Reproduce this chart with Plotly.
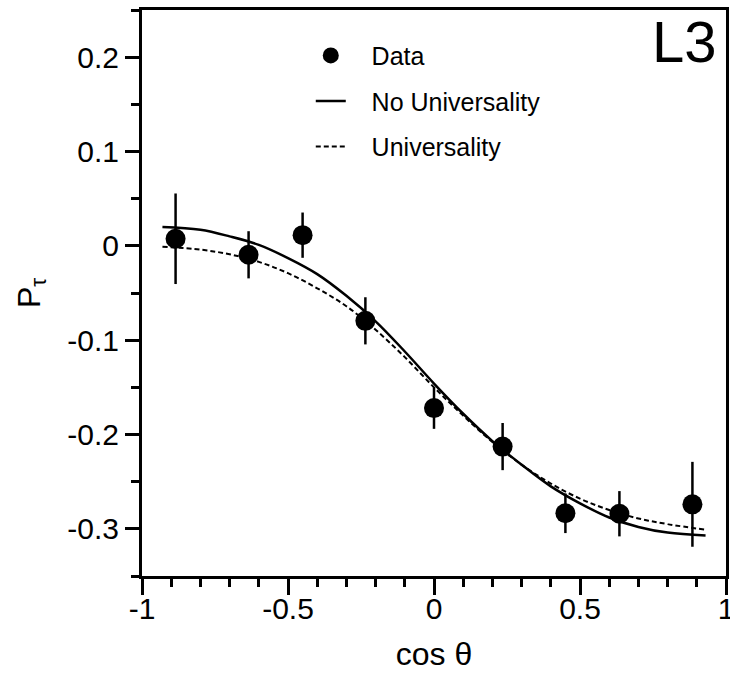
import plotly.graph_objects as go

# Data points
cos_theta = [-0.885, -0.635, -0.45, -0.235, 0.0, 0.235, 0.45, 0.635, 0.885]
p_tau = [0.0075, -0.0095, 0.0113, -0.0795, -0.172, -0.2128, -0.2835, -0.284, -0.274]
p_tau_err = [0.048, 0.025, 0.024, 0.025, 0.022, 0.025, 0.021, 0.024, 0.045]

# Fit curves
curve_x = [-0.93, -0.8, -0.7, -0.6, -0.5, -0.4, -0.3, -0.2, -0.1, 0.0,
           0.1, 0.2, 0.3, 0.4, 0.5, 0.6, 0.7, 0.8, 0.93]
no_univ = [0.020, 0.017, 0.010, 0.001, -0.013, -0.030, -0.053, -0.080, -0.112, -0.146,
           -0.178, -0.207, -0.232, -0.255, -0.273, -0.288, -0.298, -0.304, -0.307]
univ = [-0.001, -0.004, -0.009, -0.017, -0.029, -0.045, -0.064, -0.089, -0.118, -0.150,
        -0.180, -0.208, -0.232, -0.252, -0.268, -0.280, -0.289, -0.295, -0.301]

x_tickvals = [-1, -0.5, 0, 0.5, 1]
x_ticktext = ["-1", "-0.5", "0", "0.5", "1"]
y_tickvals = [-0.3, -0.2, -0.1, 0, 0.1, 0.2]
y_ticktext = ["-0.3", "-0.2", "-0.1", "0", "0.1", "0.2"]

FONT = "Liberation Sans, Arial, Helvetica, sans-serif"
PAD = "\u00a0\u00a0\u00a0"

fig = go.Figure()
fig.add_trace(go.Scatter(
    x=cos_theta, y=p_tau, mode="markers", name=PAD + "Data",
    marker=dict(color="black", size=20, symbol="circle"),
    error_y=dict(type="data", array=p_tau_err, color="black", thickness=2.5, width=0),
    legendgroup="a",
))
fig.add_trace(go.Scatter(
    x=curve_x, y=no_univ, mode="lines", name=PAD + "No Universality",
    line=dict(color="black", width=2.5, shape="spline"),
    legendgroup="b",
))
fig.add_trace(go.Scatter(
    x=curve_x, y=univ, mode="lines", name=PAD + "Universality",
    line=dict(color="black", width=2, shape="spline", dash="5px,3px"),
    legendgroup="c",
))

axis_common = dict(
    showgrid=False, zeroline=False, showline=True, linecolor="black", linewidth=3,
    mirror=True, ticks="outside", tickcolor="black", tickwidth=2.5,
    tickfont=dict(family=FONT, size=30, color="black"),
    automargin=False, ticklabeloverflow="allow",
)

fig.update_layout(
    width=730, height=680,
    margin=dict(l=142, r=4, t=10, b=104),
    paper_bgcolor="white", plot_bgcolor="white",
    font=dict(family=FONT, color="black"),
    showlegend=True,
    legend=dict(
        x=0.289, y=0.96, xanchor="left", yanchor="top",
        font=dict(family=FONT, size=25, color="black"),
        bgcolor="rgba(0,0,0,0)", tracegroupgap=10, traceorder="grouped",
        itemwidth=30,
    ),
    xaxis=dict(
        range=[-1, 1], tickvals=x_tickvals, ticktext=x_ticktext, ticklen=16,
        ticklabelstandoff=-12,
        minor=dict(dtick=0.1, tick0=-1, ticks="outside", ticklen=8, tickwidth=2.5,
                   tickcolor="black", showgrid=False),
        title=dict(text="cos θ", font=dict(family=FONT, size=32, color="black"), standoff=19),
        **axis_common,
    ),
    yaxis=dict(
        range=[-0.35, 0.25], tickvals=y_tickvals, ticktext=y_ticktext, ticklen=14,
        minor=dict(dtick=0.05, tick0=0, ticks="outside", ticklen=8, tickwidth=2.5,
                   tickcolor="black", showgrid=False),
        title=dict(text="P<sub>τ</sub>", font=dict(family=FONT, size=32, color="black"), standoff=18),
        **axis_common,
    ),
    annotations=[dict(
        text="L3", xref="paper", yref="paper", x=0.988, y=1.006,
        xanchor="right", yanchor="top", showarrow=False,
        font=dict(family=FONT, size=58, color="black"),
    )],
)

fig.write_html(
    "out.html",
    config={"displayModeBar": False},
    post_script="document.body.style.margin='0';document.body.style.overflow='hidden';",
)
